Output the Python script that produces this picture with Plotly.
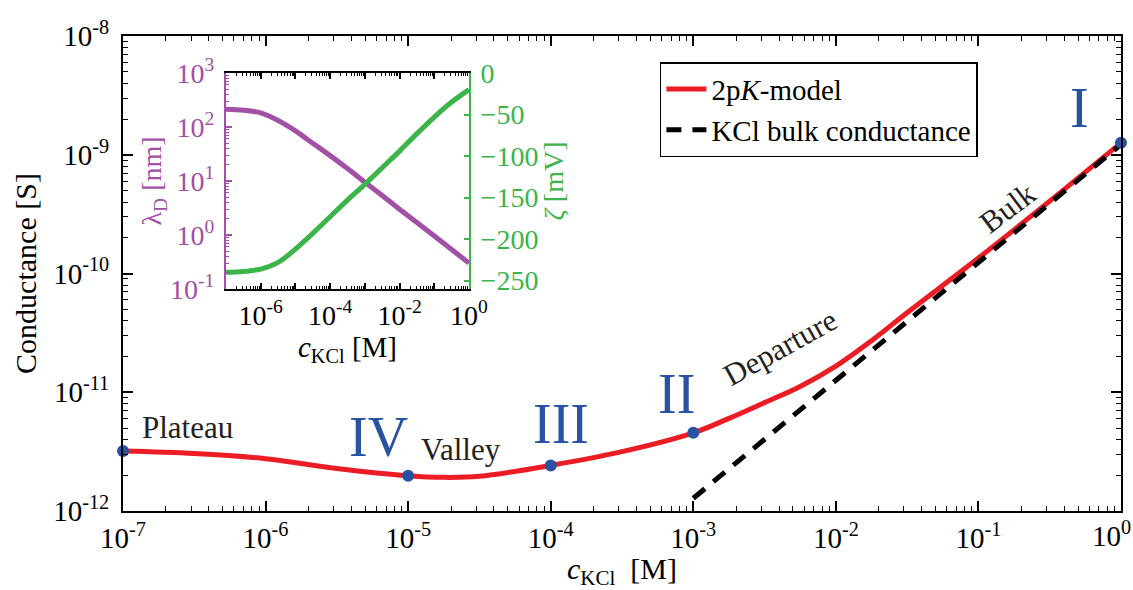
import plotly.graph_objects as go

# ---------------- data ----------------
c_model = [1e-7, 3.16e-7, 1e-6, 3.16e-6, 1e-5, 1.78e-5, 3.16e-5, 1e-4, 3.16e-4, 1e-3,
           1.78e-3, 3.16e-3, 5.62e-3, 1e-2, 1.78e-2, 3.16e-2, 1e-1, 3.16e-1, 1.0]
g_model = [3.2e-12, 3.05e-12, 2.76e-12, 2.28e-12, 1.98e-12, 1.92e-12, 1.96e-12, 2.42e-12, 3.16e-12,
           4.55e-12, 6.03e-12, 8.18e-12, 1.12e-11, 1.66e-11, 2.72e-11, 4.68e-11, 1.35e-10,
           4.07e-10, 1.26e-9]

c_bulk = [1e-3, 1e-2, 1e-1, 1.0]
g_bulk = [1.28e-12, 1.26e-11, 1.24e-10, 1.22e-9]

c_points = [1e-7, 1e-5, 1e-4, 1e-3, 1.0]
g_points = [3.2e-12, 1.98e-12, 2.42e-12, 4.55e-12, 1.26e-9]
point_labels = ["V", "IV", "III", "II", "I"]

c_inset = [1e-7, 3.16e-7, 1e-6, 3.16e-6, 1e-5, 3.16e-5, 1e-4, 3.16e-4, 1e-3,
           3.16e-3, 1e-2, 3.16e-2, 1e-1, 3.16e-1, 1.0]
lambda_d = [214, 204, 182, 132, 85, 50, 29.5, 17, 9.5, 5.4, 3.0, 1.7, 0.955, 0.537, 0.302]
zeta = [-240, -239, -236, -228, -212, -193, -173, -153, -134, -114, -94, -73, -53, -35, -20]

x_ticks = [1e-7, 1e-6, 1e-5, 1e-4, 1e-3, 1e-2, 1e-1, 1.0]
# the last label (10^0) is drawn as a right-aligned annotation so it stays inside the page
x_ticktext = ["10<sup>-7</sup>", "10<sup>-6</sup>", "10<sup>-5</sup>", "10<sup>-4</sup>",
              "10<sup>-3</sup>", "10<sup>-2</sup>", "10<sup>-1</sup>", ""]
x_last_label = "10<sup>0</sup>"
y_ticks = [1e-12, 1e-11, 1e-10, 1e-9, 1e-8]
y_ticktext = ["10<sup>-12</sup>", "10<sup>-11</sup>", "10<sup>-10</sup>", "10<sup>-9</sup>", "10<sup>-8</sup>"]

ix_ticktext = ["", "10<sup>-6</sup>", "", "10<sup>-4</sup>", "", "10<sup>-2</sup>", "", "10<sup>0</sup>"]
ly_ticks = [0.1, 1, 10, 100, 1000]
ly_ticktext = ["10<sup>-1</sup>", "10<sup>0</sup>", "10<sup>1</sup>", "10<sup>2</sup>", "10<sup>3</sup>"]
z_ticks = [0, -50, -100, -150, -200, -250]
z_ticktext = ["0", "−50", "−100", "−150", "−200", "−250"]

# annotation positions (log10 data coordinates)
roman_pos = [(-7.344, -11.486), (-5.211, -11.377), (-3.928, -11.267), (-3.121, -11.015), (-0.288, -8.606)]
word_labels = ["Plateau", "Valley", "Departure", "Bulk"]
word_pos = [(-6.551, -11.293), (-4.629, -11.486), (-2.392, -10.619), (-0.793, -9.44)]
word_angle = [0, 0, -29, -37]

# ---------------- styles ----------------
FONT = "Liberation Serif"
RED = "#ec1c24"
BLUE = "#2a52a3"
PURPLE = "#a24fa6"
GREEN = "#3bb44a"


def minor_log(lo, hi):
    vals = []
    for e in range(lo, hi):
        for k in range(2, 10):
            vals.append(k * 10.0 ** e)
    return vals


fig = go.Figure()

fig.add_trace(go.Scatter(x=c_model, y=g_model, mode="lines", name="2p<i>K</i>-model",
                         line=dict(color=RED, width=5, shape="spline", smoothing=1.0),
                         xaxis="x", yaxis="y"))
fig.add_trace(go.Scatter(x=c_bulk, y=g_bulk, mode="lines", name="KCl bulk conductance",
                         line=dict(color="black", width=5, dash="15px,11px"),
                         xaxis="x", yaxis="y"))
fig.add_trace(go.Scatter(x=c_points, y=g_points, mode="markers", showlegend=False,
                         marker=dict(color=BLUE, size=12), xaxis="x", yaxis="y", cliponaxis=False))

# inset
fig.add_trace(go.Scatter(x=c_inset, y=lambda_d, mode="lines", showlegend=False,
                         line=dict(color=PURPLE, width=5, shape="spline", smoothing=1.0),
                         xaxis="x2", yaxis="y3"))
fig.add_trace(go.Scatter(x=c_inset, y=zeta, mode="lines", showlegend=False,
                         line=dict(color=GREEN, width=5, shape="spline", smoothing=1.0),
                         xaxis="x2", yaxis="y4"))

tickfont = dict(family=FONT, size=29, color="black")
itickfont = dict(family=FONT, size=28, color="black")

annotations = []
for lab, (ax_, ay_) in zip(point_labels, roman_pos):
    annotations.append(dict(x=ax_, y=ay_, xref="x", yref="y", text=lab, showarrow=False,
                            font=dict(family=FONT, size=56, color=BLUE)))
for lab, (ax_, ay_), ang in zip(word_labels, word_pos, word_angle):
    annotations.append(dict(x=ax_, y=ay_, xref="x", yref="y", text=lab, showarrow=False,
                            textangle=ang, font=dict(family=FONT, size=31, color="#222222")))
annotations.append(dict(x=1.0, y=0, xref="paper", yref="paper", text=x_last_label,
                        showarrow=False, xanchor="right", yanchor="top", xshift=12, yshift=-3,
                        font=tickfont))

fig.update_layout(
    width=1133, height=590,
    margin=dict(l=123, r=12, t=36, b=79),
    paper_bgcolor="white", plot_bgcolor="white",
    font=dict(family=FONT, color="black"),
    showlegend=True,
    legend=dict(x=0.538, y=0.945, xanchor="left", yanchor="top",
                bgcolor="white", bordercolor="black", borderwidth=1.5,
                font=dict(family=FONT, size=29, color="black"),
                tracegroupgap=0, itemwidth=40),
    xaxis=dict(type="log", range=[-7, 0], domain=[0, 1], anchor="y",
               tickmode="array", tickvals=x_ticks, ticktext=x_ticktext, tickfont=tickfont,
               ticks="inside", ticklen=10, tickwidth=1.5, tickcolor="black",
               showline=True, linecolor="black", linewidth=2, mirror="ticks",
               showgrid=False, zeroline=False, automargin=False,
               minor=dict(tickmode="array", tickvals=minor_log(-7, 0), ticks="inside",
                          ticklen=5, tickwidth=1, tickcolor="black", showgrid=False),
               title=dict(text="<i>c</i><sub>KCl</sub>  [M]", standoff=4,
                          font=dict(family=FONT, size=30, color="black"))),
    yaxis=dict(type="log", range=[-12, -8], domain=[0, 1], anchor="x",
               tickmode="array", tickvals=y_ticks, ticktext=y_ticktext, tickfont=tickfont,
               ticks="inside", ticklen=10, tickwidth=1.5, tickcolor="black",
               ticklabeloverflow="allow",
               showline=True, linecolor="black", linewidth=2, mirror="ticks",
               showgrid=False, zeroline=False, automargin=False, ticklabelstandoff=6,
               minor=dict(tickmode="array", tickvals=minor_log(-12, -8), ticks="inside",
                          ticklen=5, tickwidth=1, tickcolor="black", showgrid=False),
               title=dict(text="Conductance [S]", standoff=8,
                          font=dict(family=FONT, size=30, color="black"))),
    xaxis2=dict(type="log", range=[-7, 0], domain=[0.1032, 0.3467], anchor="y3",
                tickmode="array", tickvals=x_ticks, ticktext=ix_ticktext, tickfont=itickfont,
                ticks="inside", ticklen=6, tickwidth=1.5, tickcolor="black",
                ticklabeloverflow="allow",
                showline=True, linecolor="black", linewidth=2, mirror="ticks",
                showgrid=False, zeroline=False, automargin=False,
                minor=dict(tickmode="array", tickvals=minor_log(-7, 0), ticks="inside",
                           ticklen=3, tickwidth=1, tickcolor="black", showgrid=False),
                title=dict(text="<i>c</i><sub>KCl</sub> [M]", standoff=2,
                           font=dict(family=FONT, size=29, color="black"))),
    yaxis3=dict(type="log", range=[-1, 3], domain=[0.4674, 0.9221], anchor="x2", side="left",
                tickmode="array", tickvals=ly_ticks, ticktext=ly_ticktext,
                tickfont=dict(family=FONT, size=28, color=PURPLE),
                ticks="inside", ticklen=6, tickwidth=1.5, tickcolor=PURPLE,
                ticklabeloverflow="allow",
                showline=True, linecolor=PURPLE, linewidth=2, mirror=False,
                showgrid=False, zeroline=False, automargin=False, ticklabelstandoff=4,
                minor=dict(tickmode="array", tickvals=minor_log(-1, 3), ticks="inside",
                           ticklen=3, tickwidth=1, tickcolor=PURPLE, showgrid=False),
                title=dict(text="λ<sub>D</sub> [nm]", standoff=0,
                           font=dict(family=FONT, size=28, color=PURPLE))),
    yaxis4=dict(range=[-260, 0], anchor="x2", overlaying="y3", side="right",
                tickmode="array", tickvals=z_ticks, ticktext=z_ticktext,
                tickfont=dict(family=FONT, size=28, color=GREEN),
                ticks="inside", ticklen=5, tickwidth=1.5, tickcolor=GREEN,
                ticklabeloverflow="allow",
                showline=True, linecolor=GREEN, linewidth=2,
                showgrid=False, zeroline=False, automargin=False, ticklabelstandoff=4,
                title=dict(text="<i>ζ</i> [mV]", standoff=4,
                           font=dict(family=FONT, size=28, color=GREEN))),
    annotations=annotations,
)

fig.write_html("out.html")
